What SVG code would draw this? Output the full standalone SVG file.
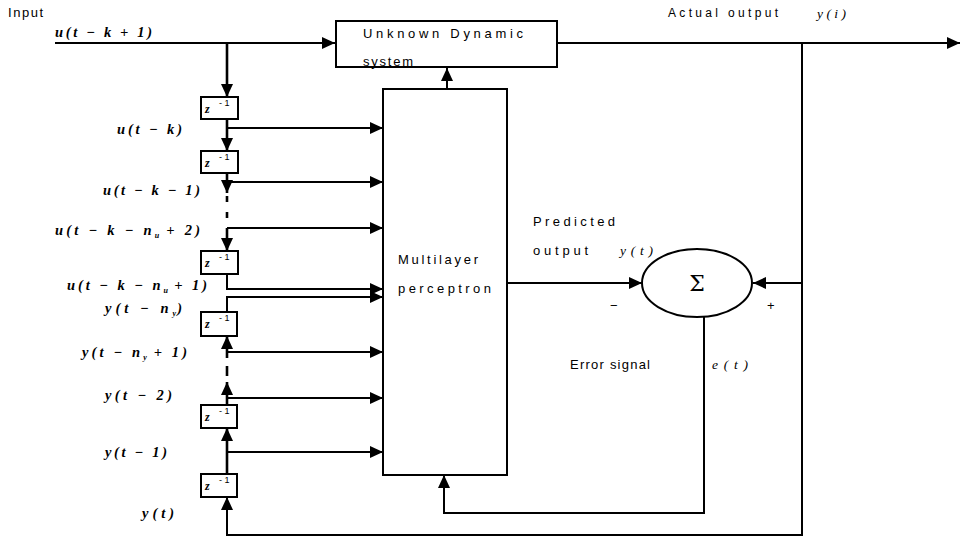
<svg xmlns="http://www.w3.org/2000/svg" width="964" height="537" viewBox="0 0 964 537">
<style>
.s{font-family:"Liberation Sans",Arial,sans-serif;font-size:13px;letter-spacing:2px;fill:#000}
.m{font-family:"Liberation Serif","Times New Roman",serif;font-style:italic;font-weight:bold;font-size:14.5px;letter-spacing:3px;fill:#000}
.n{font-family:"Liberation Serif","Times New Roman",serif;font-style:italic;font-size:13.5px;letter-spacing:2px;fill:#000}
.sub{font-size:8px;letter-spacing:0}
.box{fill:#fff;stroke:#000;stroke-width:2}
.c{fill:none;stroke:#000;stroke-width:2}
.ch{fill:none;stroke:#000;stroke-width:2.6}
.zt{font-family:"Liberation Serif",serif;font-style:italic;font-weight:bold;font-size:12px;fill:#000}
.zs{font-family:"Liberation Sans",sans-serif;font-size:9px;fill:#000}
</style>
<defs>
<marker id="a" markerUnits="userSpaceOnUse" markerWidth="14" markerHeight="12" refX="13" refY="6" orient="auto">
<path d="M0,0 L13,6 L0,12 Z" fill="#000"/>
</marker>
</defs>

<g id="labels">
<text class="s" x="8" y="17" textLength="37" lengthAdjust="spacing">Input</text>
<text class="m" x="55" y="37" textLength="100" lengthAdjust="spacing">u(t − k + 1)</text>
<text class="s" x="668" y="17" style="font-size:12px" textLength="112" lengthAdjust="spacing">Actual output</text>
<text class="n" x="817" y="18" textLength="31" lengthAdjust="spacing">y(i)</text>
<text class="m" x="117" y="134" textLength="68" lengthAdjust="spacing">u(t − k)</text>
<text class="m" x="103" y="195" textLength="100" lengthAdjust="spacing">u(t − k − 1)</text>
<text class="m" x="55" y="235" textLength="148" lengthAdjust="spacing">u(t − k − n<tspan class="sub" dy="3">u</tspan><tspan dy="-3"> + 2)</tspan></text>
<text class="m" x="67" y="290" textLength="143" lengthAdjust="spacing">u(t − k − n<tspan class="sub" dy="3">u</tspan><tspan dy="-3"> + 1)</tspan></text>
<text class="m" x="105" y="313" textLength="80" lengthAdjust="spacing">y(t − n<tspan class="sub" dy="3">y</tspan><tspan dy="-3">)</tspan></text>
<text class="m" x="82" y="357" textLength="108" lengthAdjust="spacing">y(t − n<tspan class="sub" dy="3">y</tspan><tspan dy="-3"> + 1)</tspan></text>
<text class="m" x="105" y="400" textLength="70" lengthAdjust="spacing">y(t − 2)</text>
<text class="m" x="105" y="457" textLength="65" lengthAdjust="spacing">y(t − 1)</text>
<text class="m" x="142" y="518" textLength="35" lengthAdjust="spacing">y(t)</text>
<text class="s" x="533" y="226" textLength="84" lengthAdjust="spacing">Predicted</text>
<text class="s" x="533" y="255" textLength="57" lengthAdjust="spacing">output</text>
<text class="n" x="620" y="255" textLength="35" lengthAdjust="spacing">y(t)</text>
<text class="s" x="570" y="369" textLength="82" lengthAdjust="spacing">Error signal</text>
<text class="n" x="712" y="369" textLength="38" lengthAdjust="spacing">e(t)</text>
<text class="s" x="610" y="310">−</text>
<text class="s" x="767" y="310">+</text>
</g>

<g id="connectors">
<path class="c" d="M55 43 H335" marker-end="url(#a)"/>
<path class="c" d="M557 43 H960" marker-end="url(#a)"/>
<path class="ch" d="M227 43 V97" marker-end="url(#a)"/>
<path class="ch" d="M227 119 V151" marker-end="url(#a)"/>
<path class="c" d="M227 128 H383" marker-end="url(#a)"/>
<path class="ch" d="M227 173 V193" marker-end="url(#a)"/>
<path class="c" d="M227 182 H383" marker-end="url(#a)"/>
<path class="ch" d="M227 196 V202 M227 212 V218"/>
<path class="c" d="M227 228 H383" marker-end="url(#a)"/>
<path class="ch" d="M227 228 V251" marker-end="url(#a)"/>
<path class="c" d="M227 274 V289 H383" marker-end="url(#a)"/>
<path class="c" d="M227 312 V297 H383" marker-end="url(#a)"/>
<path class="ch" d="M227 358 V336" marker-end="url(#a)"/>
<path class="c" d="M227 352 H383" marker-end="url(#a)"/>
<path class="ch" d="M227 366 V376"/>
<path class="ch" d="M227 405 V382" marker-end="url(#a)"/>
<path class="c" d="M227 398 H383" marker-end="url(#a)"/>
<path class="ch" d="M227 474 V428" marker-end="url(#a)"/>
<path class="c" d="M227 452 H383" marker-end="url(#a)"/>
<path class="c" d="M802 43 V535 H227 V497" marker-end="url(#a)"/>
<path class="c" d="M447 89 V68" marker-end="url(#a)"/>
<path class="c" d="M507 283 H642" marker-end="url(#a)"/>
<path class="c" d="M802 283 H753" marker-end="url(#a)"/>
<path class="c" d="M704 317 V513 H444 V475" marker-end="url(#a)"/>
</g>

<g id="unknown">
<rect class="box" x="336" y="21" width="221" height="46"/>
<text class="s" x="363" y="38" textLength="162" lengthAdjust="spacing">Unknown Dynamic</text>
<text class="s" x="363" y="66" textLength="52" lengthAdjust="spacing">system</text>
</g>

<g id="mlp">
<rect class="box" x="383" y="89" width="124" height="386"/>
<text class="s" x="398" y="264" textLength="82" lengthAdjust="spacing">Multilayer</text>
<text class="s" x="398" y="293" textLength="95" lengthAdjust="spacing">perceptron</text>
</g>

<g id="sum">
<ellipse cx="697" cy="283" rx="55" ry="34" fill="#fff" stroke="#000" stroke-width="2"/>
<text x="697" y="291" text-anchor="middle" style="font-family:'DejaVu Serif',serif;font-size:22px">Σ</text>
</g>

<g id="z1"><rect class="box" x="201" y="97" width="37" height="22"/><text class="zt" x="205" y="113">z</text><text class="zs" x="219" y="106">- 1</text></g>
<g id="z2"><rect class="box" x="201" y="151" width="37" height="22"/><text class="zt" x="205" y="167">z</text><text class="zs" x="219" y="160">- 1</text></g>
<g id="z3"><rect class="box" x="201" y="251" width="37" height="23"/><text class="zt" x="205" y="267">z</text><text class="zs" x="219" y="260">- 1</text></g>
<g id="z4"><rect class="box" x="201" y="312" width="36" height="24"/><text class="zt" x="205" y="328">z</text><text class="zs" x="219" y="321">- 1</text></g>
<g id="z5"><rect class="box" x="201" y="405" width="36" height="23"/><text class="zt" x="205" y="421">z</text><text class="zs" x="219" y="414">- 1</text></g>
<g id="z6"><rect class="box" x="201" y="474" width="36" height="23"/><text class="zt" x="205" y="490">z</text><text class="zs" x="219" y="483">- 1</text></g>
</svg>
